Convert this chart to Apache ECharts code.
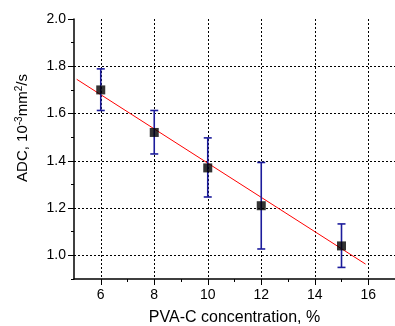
<!DOCTYPE html>
<html><head><meta charset="utf-8">
<script src="https://cdn.jsdelivr.net/npm/echarts@6/dist/echarts.min.js"></script>
<style>html,body{margin:0;padding:0;background:#fff}#c{width:395px;height:326px}</style>
</head><body><div id="c"></div>
<script>
// Data
const concentration = [6, 8, 10, 12, 15];
const adcMean = [1.70, 1.52, 1.37, 1.21, 1.04];
const adcLow = [1.613, 1.429, 1.247, 1.027, 0.949];
const adcHigh = [1.789, 1.613, 1.497, 1.393, 1.133];
const fitLine = [[5.1, 1.745], [15.9, 0.963]];
const xTickLabels = [6, 8, 10, 12, 14, 16];
const xMinorTicks = [7, 9, 11, 13, 15, 17];
const yTickLabels = [1.0, 1.2, 1.4, 1.6, 1.8, 2.0];
const yGridValues = [1.0, 1.2, 1.4, 1.6, 1.8];
const yMinorTicks = [0.9, 1.1, 1.3, 1.5, 1.7, 1.9];

const font = 'Liberation Sans, Arial, sans-serif';
const chart = echarts.init(document.getElementById('c'), null, {renderer: 'canvas'});

const points = concentration.map((x, i) => [x, adcMean[i]]);
const errs = concentration.map((x, i) => [x, adcLow[i], adcHigh[i]]);

const baseX = {type: 'value', min: 5, max: 17, position: 'bottom'};
const baseY = {type: 'value', min: 0.9, max: 2.0, position: 'left'};

chart.setOption({
  animation: false,
  grid: {left: 74, right: 0, top: 19, bottom: 47, containLabel: false, outerBoundsMode: 'none'},
  xAxis: [
    Object.assign({}, baseX, {
      name: 'PVA-C concentration, %', nameLocation: 'middle', nameGap: 31,
      nameTextStyle: {fontFamily: font, fontSize: 16, color: '#000'},
      axisLine: {show: true, lineStyle: {color: '#000', width: 1.5}},
      axisTick: {show: true, length: 6, inside: false, customValues: xTickLabels, lineStyle: {color: '#000', width: 1}},
      axisLabel: {customValues: xTickLabels, fontFamily: font, fontSize: 14, color: '#000', margin: 9},
      splitLine: {show: true, lineStyle: {color: '#000', type: [2, 2], width: 1}}
    }),
    Object.assign({}, baseX, {
      axisLine: {show: false},
      axisTick: {show: true, length: 3, customValues: xMinorTicks, lineStyle: {color: '#000', width: 1}},
      axisLabel: {show: false},
      splitLine: {show: false}
    })
  ],
  yAxis: [
    Object.assign({}, baseY, {
      name: 'ADC, 10{sup|-3}mm{sup|2}/s', nameLocation: 'middle', nameGap: 43, nameRotate: 90,
      nameTextStyle: {fontFamily: font, fontSize: 15, color: '#000', padding: [0, 0, 0, 42],
        rich: {sup: {fontFamily: font, fontSize: 10, color: '#000', verticalAlign: 'top', padding: [0, 0, 7, 0]}}},
      axisLine: {show: true, lineStyle: {color: '#000', width: 1.5}},
      axisTick: {show: true, length: 6, customValues: yTickLabels, lineStyle: {color: '#000', width: 1}},
      axisLabel: {customValues: yTickLabels, fontFamily: font, fontSize: 14, color: '#000', margin: 8,
        formatter: v => Number(v).toFixed(1)},
      splitLine: {show: false}
    }),
    Object.assign({}, baseY, {
      axisLine: {show: false},
      axisTick: {show: false, customValues: yGridValues},
      axisLabel: {show: false},
      splitLine: {show: true, lineStyle: {color: '#000', type: [2, 2], width: 1}}
    }),
    Object.assign({}, baseY, {
      axisLine: {show: false},
      axisTick: {show: true, length: 3, customValues: yMinorTicks, lineStyle: {color: '#000', width: 1}},
      axisLabel: {show: false},
      splitLine: {show: false}
    })
  ],
  series: [
    {
      type: 'line', data: fitLine, symbol: 'none', xAxisIndex: 0, yAxisIndex: 0,
      lineStyle: {color: '#ff0000', width: 1}, z: 3
    },
    {
      type: 'custom', xAxisIndex: 0, yAxisIndex: 0, data: errs, z: 4,
      renderItem: function (params, api) {
        const x = api.value(0);
        const lo = api.coord([x, api.value(1)]);
        const hi = api.coord([x, api.value(2)]);
        const hw = 4;
        const style = {stroke: '#1c1c9c', lineWidth: 1.6};
        return {type: 'group', children: [
          {type: 'line', shape: {x1: lo[0], y1: lo[1], x2: hi[0], y2: hi[1]}, style: style},
          {type: 'line', shape: {x1: lo[0] - hw, y1: lo[1], x2: lo[0] + hw, y2: lo[1]}, style: style},
          {type: 'line', shape: {x1: hi[0] - hw, y1: hi[1], x2: hi[0] + hw, y2: hi[1]}, style: style}
        ]};
      }
    },
    {
      type: 'scatter', data: points, xAxisIndex: 0, yAxisIndex: 0, symbol: 'rect', symbolSize: 9,
      itemStyle: {color: '#000'}, z: 5
    }
  ]
});
</script></body></html>
